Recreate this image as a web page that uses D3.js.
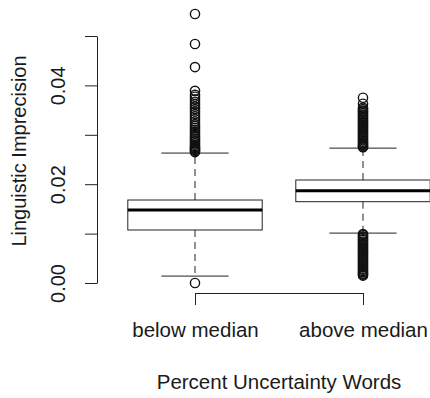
<!DOCTYPE html>
<html>
<head>
<meta charset="utf-8">
<script src="https://cdn.jsdelivr.net/npm/d3@7"></script>
<style>
  body { margin: 0; background: #fff; }
  svg { display: block; }
  text { font-family: "Liberation Sans", Arial, Helvetica, sans-serif; fill: #1a1a1a; }
</style>
</head>
<body>
<div id="chart"></div>
<script>
// box statistics per group
const groups = ["below median", "above median"];
const q1 = [0.01073, 0.01646];
const median = [0.01478, 0.01866];
const q3 = [0.0168, 0.02085];
const whiskerLow = [0.0014, 0.0101];
const whiskerHigh = [0.0263, 0.0273];

// outliers
const outliersBelow = [
  0.05445, 0.04838, 0.0437, 0.0389, 0.0381, 0.0377, 0.0372, 0.0367, 0.0362,
  0.0357, 0.0352, 0.0347, 0.0342, 0.0337, 0.0332, 0.0327, 0.0322, 0.0318,
  0.0314, 0.0310, 0.0306, 0.0302, 0.0298, 0.0295, 0.0292, 0.0289, 0.0286,
  0.0283, 0.0280, 0.0277, 0.0275, 0.0273, 0.0271, 0.0269, 0.0267, 0.0265,
  0.0
];
const outliersAbove = [
  0.0375, 0.0363, 0.0355, 0.0352, 0.0349, 0.0347, 0.0344, 0.0341, 0.0339,
  0.0336, 0.0334, 0.0331, 0.0329, 0.0326, 0.0324, 0.0321, 0.0319, 0.0316,
  0.0314, 0.0311, 0.0309, 0.0306, 0.0304, 0.0301, 0.0299, 0.0296, 0.0294,
  0.0291, 0.0289, 0.0286, 0.0284, 0.0282, 0.0280, 0.0278, 0.0276, 0.0275,
  0.0099, 0.0097, 0.0094, 0.0092, 0.0089, 0.0087, 0.0084, 0.0082, 0.0079,
  0.0077, 0.0074, 0.0072, 0.0069, 0.0067, 0.0064, 0.0062, 0.0059, 0.0057,
  0.0054, 0.0052, 0.0049, 0.0047, 0.0044, 0.0042, 0.0039, 0.0037, 0.0034,
  0.0032, 0.0029, 0.0027, 0.0024, 0.0022, 0.0019, 0.0017, 0.0015
];
const outliers = [outliersBelow, outliersAbove];

const yTicks = [0, 0.01, 0.02, 0.03, 0.04, 0.05];
const yLabelled = [0, 0.02, 0.04];

const width = 430, height = 398;
const ink = "#222";

const svg = d3.select("#chart").append("svg")
  .attr("width", width)
  .attr("height", height);

const x = d3.scaleLinear().domain([1, 2]).range([195, 363]);
const y = d3.scaleLinear().domain([0, 0.05]).range([283, 36]);
const halfBox = x(1.4) - x(1);
const halfCap = x(1.2) - x(1);

// y axis
const yAxis = svg.append("g")
  .attr("transform", "translate(97,0)")
  .call(d3.axisLeft(y).tickValues(yTicks).tickSize(12).tickSizeOuter(0)
    .tickFormat(d => yLabelled.includes(d) ? d3.format(".2f")(d) : ""));
yAxis.select(".domain").attr("stroke", ink);
yAxis.selectAll(".tick line").attr("stroke", ink);
yAxis.selectAll(".tick text")
  .attr("x", null).attr("dy", null)
  .attr("transform", "translate(-32,0) rotate(-90)")
  .attr("text-anchor", "middle")
  .style("font-size", "20px")
  .style("font-family", "'Liberation Sans', Arial, sans-serif")
  .attr("fill", "#1a1a1a");

// x axis
const xAxis = svg.append("g")
  .attr("transform", "translate(0,293)")
  .call(d3.axisBottom(x).tickValues([1, 2]).tickSize(12).tickSizeOuter(0)
    .tickFormat((d, i) => groups[i]));
xAxis.select(".domain").attr("stroke", ink);
xAxis.selectAll(".tick line").attr("stroke", ink);
xAxis.selectAll(".tick text")
  .attr("y", 44).attr("dy", null)
  .style("font-size", "20.5px")
  .style("font-family", "'Liberation Sans', Arial, sans-serif")
  .attr("fill", "#1a1a1a");

// boxes
const box = svg.append("g").selectAll("g")
  .data(groups)
  .join("g");

box.append("line")
  .attr("x1", (d, i) => x(i + 1)).attr("x2", (d, i) => x(i + 1))
  .attr("y1", (d, i) => y(q3[i])).attr("y2", (d, i) => y(whiskerHigh[i]))
  .attr("stroke", ink).attr("stroke-dasharray", "7,5");
box.append("line")
  .attr("x1", (d, i) => x(i + 1)).attr("x2", (d, i) => x(i + 1))
  .attr("y1", (d, i) => y(q1[i])).attr("y2", (d, i) => y(whiskerLow[i]))
  .attr("stroke", ink).attr("stroke-dasharray", "7,5");

[whiskerHigh, whiskerLow].forEach(w => {
  box.append("line")
    .attr("x1", (d, i) => x(i + 1) - halfCap).attr("x2", (d, i) => x(i + 1) + halfCap)
    .attr("y1", (d, i) => y(w[i])).attr("y2", (d, i) => y(w[i]))
    .attr("stroke", ink);
});

box.append("rect")
  .attr("x", (d, i) => x(i + 1) - halfBox)
  .attr("width", halfBox * 2)
  .attr("y", (d, i) => y(q3[i]))
  .attr("height", (d, i) => y(q1[i]) - y(q3[i]))
  .attr("fill", "none").attr("stroke", ink);

box.append("line")
  .attr("x1", (d, i) => x(i + 1) - halfBox).attr("x2", (d, i) => x(i + 1) + halfBox)
  .attr("y1", (d, i) => y(median[i])).attr("y2", (d, i) => y(median[i]))
  .attr("stroke", "#000").attr("stroke-width", 3);

box.selectAll("circle")
  .data((d, i) => outliers[i].map(v => ({ v, i })))
  .join("circle")
  .attr("cx", d => x(d.i + 1))
  .attr("cy", d => y(d.v))
  .attr("r", 4.6)
  .attr("fill", "none")
  .attr("stroke", "#111")
  .attr("stroke-width", 1.4);

// axis titles
svg.append("text")
  .attr("x", 279).attr("y", 389)
  .attr("text-anchor", "middle")
  .style("font-size", "20.5px")
  .text("Percent Uncertainty Words");

svg.append("text")
  .attr("transform", "translate(26,151) rotate(-90)")
  .attr("text-anchor", "middle")
  .style("font-size", "20px")
  .text("Linguistic Imprecision");
</script>
</body>
</html>
